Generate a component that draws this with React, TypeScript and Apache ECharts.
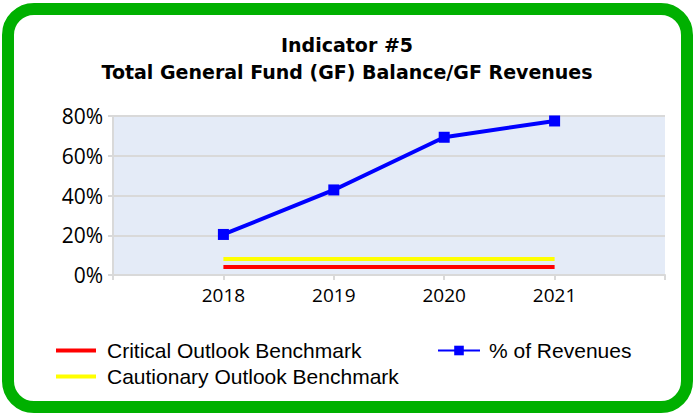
import React, { useEffect, useRef } from "react";
import * as echarts from "echarts";

const categories = ["", "2018", "2019", "2020", "2021", ""];
const revenuesPct = [null, 20.4, 42.8, 69.3, 77.5, null];
const criticalBenchmark = [null, 4, 4, 4, 4, null];
const cautionaryBenchmark = [null, 8, 8, 8, 8, null];
const yTicks = { min: 0, max: 80, interval: 20 };

export default function App() {
  const ref = useRef<HTMLDivElement>(null);
  useEffect(() => {
    document.body.style.margin = "0";
    const chart = echarts.init(ref.current!, null, { renderer: "svg" });
    chart.setOption({
      animation: false,
      backgroundColor: "#ffffff",
      graphic: [
        {
          type: "rect",
          shape: { x: 8, y: 9, width: 679, height: 398, r: 26 },
          style: { fill: "none", stroke: "#00b000", lineWidth: 12 },
          z: 100,
        },
      ],
      title: {
        text: "Indicator #5\nTotal General Fund (GF) Balance/GF Revenues",
        left: "center",
        top: 31,
        padding: 0,
        textStyle: {
          fontFamily: "DejaVu Sans",
          fontWeight: "bold",
          fontSize: 19,
          lineHeight: 27,
          color: "#000",
        },
      },
      grid: {
        left: 113,
        right: 29,
        top: 116,
        bottom: 144,
        show: true,
        backgroundColor: "#e4ebf7",
        borderWidth: 0,
      },
      xAxis: {
        type: "category",
        data: categories,
        boundaryGap: false,
        axisLine: { lineStyle: { color: "#d9d9d9", width: 2 } },
        axisTick: { show: true, length: 5, lineStyle: { color: "#d9d9d9", width: 2 } },
        axisLabel: {
          fontFamily: "Open Sans",
          fontSize: 19,
          color: "#000",
          margin: 10,
        },
        splitLine: { show: false },
      },
      yAxis: {
        type: "value",
        min: yTicks.min,
        max: yTicks.max,
        interval: yTicks.interval,
        axisLine: { show: true, lineStyle: { color: "#d9d9d9", width: 2 } },
        axisTick: { show: true, length: 5, lineStyle: { color: "#d9d9d9", width: 2 } },
        axisLabel: {
          formatter: "{value}%",
          fontFamily: "Open Sans",
          fontSize: 21,
          color: "#000",
          margin: 10,
        },
        splitLine: { show: true, lineStyle: { color: "#d9d9d9", width: 2 } },
      },
      legend: [
        {
          orient: "vertical",
          left: 56,
          top: 340,
          padding: 0,
          itemWidth: 40,
          itemHeight: 4,
          itemGap: 5,
          textStyle: {
            fontFamily: "Liberation Sans",
            fontSize: 21,
            color: "#000",
            padding: [0, 0, 0, 6],
          },
          data: [
            { name: "Critical Outlook Benchmark", icon: "rect" },
            { name: "Cautionary Outlook Benchmark", icon: "rect" },
          ],
        },
        {
          orient: "vertical",
          left: 437,
          top: 340,
          padding: 0,
          itemWidth: 42,
          itemHeight: 12,
          textStyle: {
            fontFamily: "Liberation Sans",
            fontSize: 21,
            color: "#000",
            padding: [0, 0, 0, 4],
          },
          data: [{ name: "% of Revenues" }],
        },
      ],
      series: [
        {
          name: "Critical Outlook Benchmark",
          type: "line",
          data: criticalBenchmark,
          symbol: "none",
          lineStyle: { color: "#ff0000", width: 4 },
          itemStyle: { color: "#ff0000" },
        },
        {
          name: "Cautionary Outlook Benchmark",
          type: "line",
          data: cautionaryBenchmark,
          symbol: "none",
          lineStyle: { color: "#ffff00", width: 4 },
          itemStyle: { color: "#ffff00" },
        },
        {
          name: "% of Revenues",
          type: "line",
          data: revenuesPct,
          symbol: "rect",
          symbolSize: 11,
          showSymbol: true,
          lineStyle: { color: "#0000ff", width: 4 },
          itemStyle: { color: "#0000ff" },
        },
      ],
    });
    return () => chart.dispose();
  }, []);
  return <div ref={ref} style={{ width: 694, height: 419 }} />;
}
